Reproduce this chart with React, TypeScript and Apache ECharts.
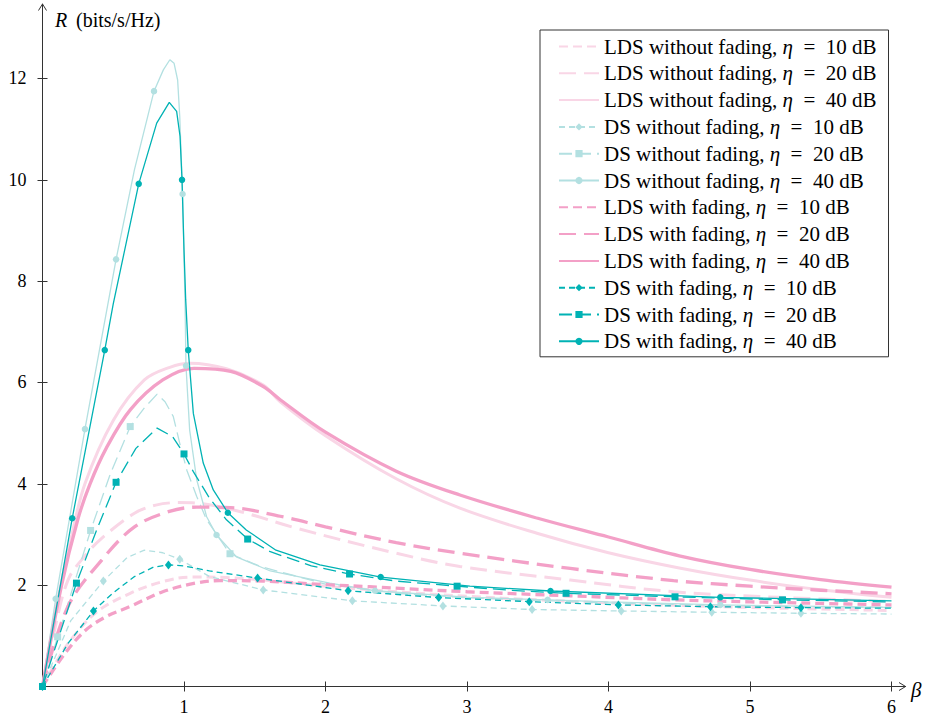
import React, { useEffect, useRef } from 'react';
import * as echarts from 'echarts';

// ---- data: [beta, R] pairs ----
const ldsNoFade10: number[][] = [[0,0],[0.1,0.5],[0.2,0.92],[0.383,1.47],[0.62,1.84],[0.85,2.07],[1.05,2.16],[1.3,2.15],[1.56,2.1],[2.0,1.98],[2.5,1.87],[3.0,1.78],[3.5,1.71],[4.0,1.65],[4.5,1.6],[5.0,1.56],[5.5,1.53],[6.0,1.5]];
const ldsNoFade20: number[][] = [[0,0],[0.08,1.05],[0.18,2.1],[0.3,2.58],[0.42,2.93],[0.65,3.42],[0.8,3.58],[0.96,3.63],[1.09,3.62],[1.4,3.45],[1.8,3.12],[2.5,2.63],[2.95,2.37],[3.73,2.1],[4.46,1.87],[5.2,1.76],[6.0,1.68]];
const ldsNoFade40: number[][] = [[0,0],[0.1,1.6],[0.2,2.9],[0.3,4.0],[0.5,5.25],[0.72,6.05],[0.9,6.3],[1.04,6.38],[1.3,6.27],[1.56,5.95],[1.68,5.62],[2.0,4.95],[2.5,4.1],[2.95,3.52],[3.5,3.02],[4.0,2.64],[4.5,2.34],[5.0,2.1],[5.5,1.91],[6.0,1.76]];
const dsNoFade10: number[][] = [[0,0],[0.2,1.3],[0.43,2.08],[0.6,2.55],[0.72,2.69],[0.85,2.64],[0.97,2.51],[1.18,2.17],[1.56,1.905],[2.19,1.69],[2.83,1.59],[3.46,1.52],[4.09,1.49],[4.73,1.465],[5.36,1.445],[6.0,1.43]];
const dsNoFade10Marks: number[] = [0,0.43,0.97,1.56,2.19,2.83,3.46,4.09,4.73,5.36];
const dsNoFade20: number[][] = [[0,0],[0.107,0.98],[0.34,3.08],[0.48,4.2],[0.62,5.13],[0.72,5.5],[0.81,5.77],[0.866,5.62],[0.924,5.33],[0.97,4.8],[1.02,4.27],[1.09,3.75],[1.16,3.29],[1.325,2.62],[1.54,2.37],[2.0,2.02],[2.5,1.84],[3.0,1.75],[4.0,1.65],[5.0,1.59],[6.0,1.56]];
const dsNoFade20Marks: number[] = [0,0.107,0.34,0.62,1.325];
const dsNoFade40: number[][] = [[0,0],[0.093,1.73],[0.3,5.08],[0.52,8.43],[0.65,10.2],[0.788,11.75],[0.854,12.17],[0.9,12.37],[0.93,12.3],[0.955,11.97],[0.97,11.25],[0.99,9.72],[1.007,7.63],[1.014,6.33],[1.04,5.06],[1.09,4.08],[1.16,3.35],[1.23,2.99],[1.37,2.56],[1.61,2.28],[2.03,2.04],[2.35,1.89],[3.02,1.76],[3.57,1.71],[4.0,1.67],[4.79,1.61],[5.5,1.58],[6.0,1.56]];
const dsNoFade40Marks: number[] = [0,0.093,0.3,0.52,0.788,0.99,1.014,1.23,2.35,3.57,4.79];
const ldsFade10: number[][] = [[0,0],[0.15,0.62],[0.3,1.1],[0.45,1.38],[0.62,1.58],[0.85,1.87],[1.08,2.04],[1.25,2.09],[1.56,2.08],[2.0,2.01],[2.31,1.97],[3.0,1.87],[3.73,1.79],[4.46,1.71],[5.0,1.67],[5.5,1.64],[6.0,1.61]];
const ldsFade20: number[][] = [[0,0],[0.18,1.58],[0.42,2.5],[0.65,3.15],[0.89,3.45],[1.09,3.54],[1.33,3.53],[1.68,3.36],[2.0,3.15],[2.5,2.84],[2.95,2.63],[3.73,2.33],[4.46,2.09],[5.0,1.98],[5.5,1.9],[6.0,1.83]];
const ldsFade40: number[][] = [[0,0],[0.135,2.0],[0.25,3.3],[0.336,4.0],[0.45,4.7],[0.62,5.46],[0.85,6.05],[1.07,6.28],[1.33,6.22],[1.56,5.92],[1.68,5.66],[2.0,5.02],[2.5,4.25],[2.95,3.78],[3.5,3.32],[4.0,2.95],[4.5,2.58],[5.0,2.31],[5.5,2.11],[6.0,1.96]];
const dsFade10: number[][] = [[0,0],[0.18,0.85],[0.36,1.49],[0.5,1.85],[0.65,2.17],[0.78,2.35],[0.89,2.4],[1.0,2.38],[1.18,2.28],[1.52,2.14],[2.16,1.89],[2.8,1.755],[3.44,1.675],[4.07,1.61],[4.72,1.575],[5.36,1.556],[6.0,1.545]];
const dsFade10Marks: number[] = [0,0.36,0.89,1.52,2.16,2.8,3.44,4.07,4.72,5.36];
const dsFade20: number[][] = [[0,0],[0.1,0.85],[0.24,2.04],[0.38,3.07],[0.52,4.03],[0.66,4.7],[0.81,5.1],[0.92,4.93],[1.0,4.59],[1.066,4.24],[1.18,3.72],[1.3,3.29],[1.45,2.91],[1.61,2.66],[1.9,2.38],[2.17,2.22],[2.5,2.08],[2.93,1.98],[3.3,1.9],[3.7,1.84],[4.47,1.77],[5.23,1.71],[6.0,1.67]];
const dsFade20Marks: number[] = [0,0.24,0.52,1.0,1.45,2.17,2.93,3.7,4.47,5.23];
const dsFade40: number[][] = [[0,0],[0.21,3.32],[0.44,6.64],[0.5,7.55],[0.68,9.92],[0.807,11.12],[0.896,11.53],[0.948,11.35],[0.972,10.86],[0.986,10.0],[1.0,8.62],[1.012,7.63],[1.03,6.64],[1.066,5.39],[1.136,4.41],[1.207,3.88],[1.31,3.43],[1.44,3.09],[1.65,2.69],[1.96,2.4],[2.39,2.16],[3.02,1.98],[3.59,1.885],[4.79,1.76],[6.0,1.69]];
const dsFade40Marks: number[] = [0,0.21,0.44,0.68,0.986,1.03,1.31,2.39,3.59,4.79];

const xTicks = [1, 2, 3, 4, 5, 6];
const yTicks = [2, 4, 6, 8, 10, 12];

const seriesNames = [
  'LDS without fading, η = 10 dB',
  'LDS without fading, η = 20 dB',
  'LDS without fading, η = 40 dB',
  'DS without fading, η = 10 dB',
  'DS without fading, η = 20 dB',
  'DS without fading, η = 40 dB',
  'LDS with fading, η = 10 dB',
  'LDS with fading, η = 20 dB',
  'LDS with fading, η = 40 dB',
  'DS with fading, η = 10 dB',
  'DS with fading, η = 20 dB',
  'DS with fading, η = 40 dB',
];

const LIGHT_PINK = '#f9d6e6';
const PINK = '#f3a0c7';
const LIGHT_TEAL = '#b3e0e1';
const TEAL = '#00b2b4';
const FONT = 'Liberation Serif';

function build(points: number[][], marks: number[] | null) {
  return points.map((p) => {
    const item: any = { value: [p[0], p[1]] };
    if (!marks || marks.indexOf(p[0]) < 0) item.symbol = 'none';
    return item;
  });
}

export default function App() {
  const ref = useRef<HTMLDivElement>(null);
  useEffect(() => {
    if (!ref.current) return;
    const chart = echarts.init(ref.current, undefined, { renderer: 'svg' });

    const lds = (name: string, pts: number[][], color: string, width: number, dash: any) => ({
      name, type: 'line', data: build(pts, null), symbol: 'none', showSymbol: false,
      smooth: 0.35,
      lineStyle: { color, width, type: dash, cap: 'butt' }, itemStyle: { color },
      emphasis: { disabled: true },
    });
    const ds = (name: string, pts: number[][], marks: number[], color: string, dash: any, symbol: string, size: any) => ({
      name, type: 'line', data: build(pts, marks), symbol, symbolSize: size,
      showSymbol: true, showAllSymbol: true,
      lineStyle: { color, width: 1.3, type: dash }, itemStyle: { color },
      emphasis: { disabled: true },
    });

    const series: any[] = [
      lds(seriesNames[0], ldsNoFade10, LIGHT_PINK, 3, [9, 5]),
      lds(seriesNames[1], ldsNoFade20, LIGHT_PINK, 3, [17, 8]),
      lds(seriesNames[2], ldsNoFade40, LIGHT_PINK, 3, 'solid'),
      ds(seriesNames[3], dsNoFade10, dsNoFade10Marks, LIGHT_TEAL, [6, 4], 'diamond', [7, 9]),
      ds(seriesNames[4], dsNoFade20, dsNoFade20Marks, LIGHT_TEAL, [13, 6], 'rect', 7),
      ds(seriesNames[5], dsNoFade40, dsNoFade40Marks, LIGHT_TEAL, 'solid', 'circle', 6.5),
      lds(seriesNames[6], ldsFade10, PINK, 3.3, [9, 5]),
      lds(seriesNames[7], ldsFade20, PINK, 3.3, [17, 8]),
      lds(seriesNames[8], ldsFade40, PINK, 3.3, 'solid'),
      ds(seriesNames[9], dsFade10, dsFade10Marks, TEAL, [6, 4], 'diamond', [7, 9]),
      ds(seriesNames[10], dsFade20, dsFade20Marks, TEAL, [13, 6], 'rect', 7),
      ds(seriesNames[11], dsFade40, dsFade40Marks, TEAL, 'solid', 'circle', 6.5),
    ];

    const legendData = seriesNames.map((n) =>
      n.indexOf('LDS') === 0 ? { name: n, itemStyle: { opacity: 0 } } : { name: n }
    );

    const axisLineStyle = { color: '#333', width: 1 };
    const baseX = { type: 'value', min: 0, max: 6.1, interval: 1, splitLine: { show: false } };
    const baseY = { type: 'value', min: 0, max: 13.47, interval: 2, splitLine: { show: false } };

    chart.setOption({
      animation: false,
      backgroundColor: '#fff',
      grid: { left: 42.5, right: 22.35, top: 4, bottom: 35.5, outerBoundsMode: 'none' } as any,
      xAxis: [
        {
          ...baseX, position: 'bottom',
          axisLine: { show: true, lineStyle: axisLineStyle },
          axisTick: { show: true, inside: false, length: 5, lineStyle: axisLineStyle, customValues: xTicks },
          axisLabel: { show: true, customValues: xTicks, margin: 11, color: '#000', fontFamily: FONT, fontSize: 18 },
        },
        {
          ...baseX, position: 'bottom',
          axisLine: { show: false },
          axisTick: { show: true, inside: true, length: 5, lineStyle: axisLineStyle, customValues: xTicks },
          axisLabel: { show: false },
        },
      ],
      yAxis: [
        {
          ...baseY, position: 'left',
          axisLine: { show: true, lineStyle: axisLineStyle },
          axisTick: { show: true, inside: false, length: 5, lineStyle: axisLineStyle, customValues: yTicks },
          axisLabel: { show: true, customValues: yTicks, margin: 16, color: '#000', fontFamily: FONT, fontSize: 18 },
        },
        {
          ...baseY, position: 'left',
          axisLine: { show: false },
          axisTick: { show: true, inside: true, length: 5, lineStyle: axisLineStyle, customValues: yTicks },
          axisLabel: { show: false },
        },
      ],
      legend: {
        orient: 'vertical',
        left: 540,
        top: 30,
        data: legendData,
        itemWidth: 40,
        itemHeight: 9,
        itemGap: 5.8,
        padding: [6, 12, 5, 18],
        borderColor: '#333',
        borderWidth: 1,
        backgroundColor: '#fff',
        selectedMode: false,
        formatter: (name: string) => {
          const parts = name.split('η');
          const rest = parts[1].replace(' = ', '\u2002=\u2002');
          return '{t|' + parts[0] + '}{i|η}{t|' + rest + '}';
        },
        textStyle: {
          color: '#000',
          fontFamily: FONT,
          fontSize: 21,
          rich: {
            t: { fontFamily: FONT, fontSize: 21, color: '#000', lineHeight: 21 },
            i: { fontFamily: FONT, fontSize: 21, fontStyle: 'italic', color: '#000', lineHeight: 21 },
          },
        },
      },
      graphic: [
        {
          type: 'polyline',
          shape: { points: [[899, 682.5], [905.6, 686.5], [899, 690.5]] },
          style: { stroke: '#333', lineWidth: 1, fill: 'none' },
          z: 100,
        },
        {
          type: 'polyline',
          shape: { points: [[38.5, 10.5], [42.5, 4], [46.5, 10.5]] },
          style: { stroke: '#333', lineWidth: 1, fill: 'none' },
          z: 100,
        },
        {
          type: 'text',
          x: 55,
          y: 20,
          style: { text: 'R', font: 'italic 20px "Liberation Serif"', fill: '#000', verticalAlign: 'middle', align: 'left' },
        },
        {
          type: 'text',
          x: 76,
          y: 20,
          style: { text: '(bits/s/Hz)', font: '20px "Liberation Serif"', fill: '#000', verticalAlign: 'middle', align: 'left' },
        },
        {
          type: 'text',
          x: 911,
          y: 690,
          style: { text: 'β', font: 'italic 21px "Liberation Serif"', fill: '#000', verticalAlign: 'middle', align: 'left' },
        },
      ],
      series,
    });
    return () => chart.dispose();
  }, []);
  return <div ref={ref} style={{ position: 'fixed', left: 0, top: 0, width: 928, height: 722, background: '#fff' }} />;
}
